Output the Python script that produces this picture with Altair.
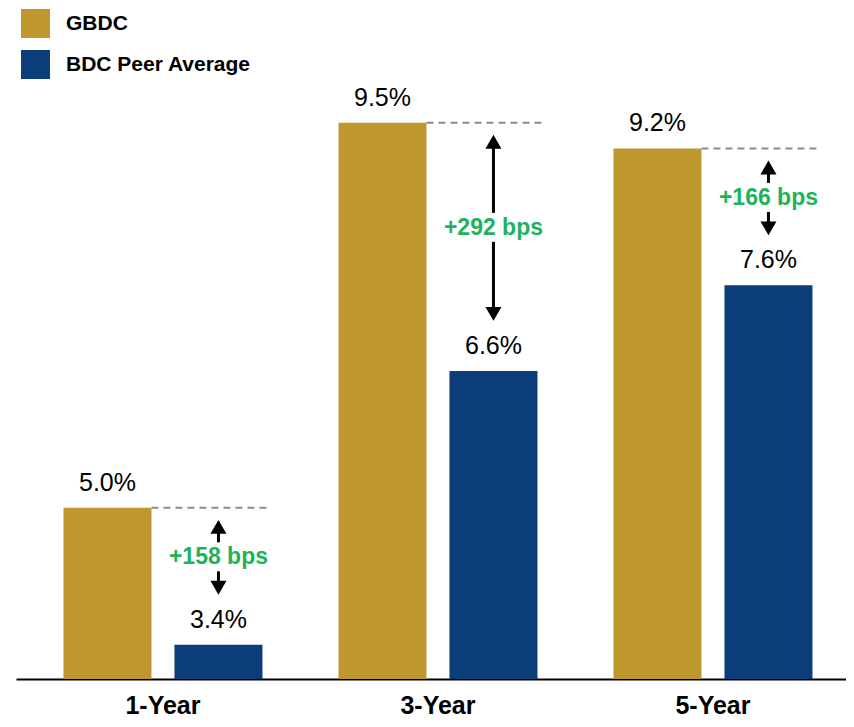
import altair as alt
import pandas as pd

periods = ["1-Year", "3-Year", "5-Year"]
series = ["GBDC", "BDC Peer Average"]
gbdc = [5.0, 9.5, 9.2]
peer = [3.4, 6.6, 7.6]
bps = ["+158 bps", "+292 bps", "+166 bps"]

colors = ["#BE982E", "#0B3D7A"]
green = "#1DB35A"

rows = []
for p, g, q in zip(periods, gbdc, peer):
    rows.append({"period": p, "series": series[0], "value": g, "label": f"{g:.1f}%"})
    rows.append({"period": p, "series": series[1], "value": q, "label": f"{q:.1f}%"})
long_df = pd.DataFrame(rows)

wide_df = pd.DataFrame({
    "period": periods,
    "gbdc": gbdc,
    "peer": peer,
    "bps": bps,
    "series": [series[1]] * len(periods),
})
wide_df["mid"] = (wide_df["gbdc"] + wide_df["peer"]) / 2

FONT = "Liberation Sans"

# plot area 830 wide starting at page x=16; outer padding split so groups sit where the reference has them
x_scale = alt.Scale(domain=periods, paddingInner=0.2764, paddingOuter=0.1473, align=0.586)
xoff_scale = alt.Scale(domain=series, paddingInner=0.207, paddingOuter=0)
y_scale = alt.Scale(domain=[3, 10], zero=False, nice=False)

X = alt.X("period:N", scale=x_scale, sort=periods, title=None,
          axis=alt.Axis(domain=True, domainColor="black", domainWidth=2, ticks=False, tickSize=0,
                        labelFont=FONT, labelFontSize=25, labelFontWeight="bold",
                        labelColor="black", labelPadding=14, labelAngle=0, grid=False))
XO = alt.XOffset("series:N", scale=xoff_scale, sort=series)
Y = alt.Y("value:Q", scale=y_scale, axis=None, title=None)

base_long = alt.Chart(long_df)
base_wide = alt.Chart(wide_df)

bars = base_long.mark_bar().encode(
    x=X, xOffset=XO, y=Y, y2=alt.datum(3),
    color=alt.Color("series:N", scale=alt.Scale(domain=series, range=colors), sort=series,
                    legend=alt.Legend(orient="none", legendX=5, legendY=-71, title=None,
                                      symbolType="square", symbolSize=841, symbolStrokeWidth=0,
                                      symbolOpacity=1,
                                      labelFont=FONT, labelFontSize=21, labelFontWeight="bold",
                                      labelColor="black", labelOffset=16, rowPadding=12,
                                      padding=0, labelLimit=400)),
)

value_text = base_long.mark_text(font=FONT, fontSize=25, color="black", dy=-17,
                                 baseline="alphabetic").encode(
    x=X, xOffset=XO, y=Y, text="label:N")

dash = base_wide.mark_rule(strokeDash=[7, 5], color="#8C8C8C", strokeWidth=2, x2Offset=5).encode(
    x=alt.X("period:N", scale=x_scale, bandPosition=0.4422),
    x2=alt.X2("period:N", bandPosition=1),
    y=alt.Y("gbdc:Q", scale=y_scale),
)

shaft_top = base_wide.mark_rule(color="black", strokeWidth=3, yOffset=20, y2Offset=-34).encode(
    x=alt.X("period:N", scale=x_scale), xOffset=XO,
    y=alt.Y("gbdc:Q", scale=y_scale), y2="mid:Q")

shaft_bot = base_wide.mark_rule(color="black", strokeWidth=3, yOffset=-5, y2Offset=-62).encode(
    x=alt.X("period:N", scale=x_scale), xOffset=XO,
    y=alt.Y("mid:Q", scale=y_scale), y2="peer:Q")

head_top = base_wide.mark_point(shape="triangle-up", filled=True, size=256, color="black",
                                opacity=1, yOffset=19).encode(
    x=alt.X("period:N", scale=x_scale), xOffset=XO, y=alt.Y("gbdc:Q", scale=y_scale))

head_bot = base_wide.mark_point(shape="triangle-down", filled=True, size=256, color="black",
                                opacity=1, yOffset=-57).encode(
    x=alt.X("period:N", scale=x_scale), xOffset=XO, y=alt.Y("peer:Q", scale=y_scale))

bps_text = base_wide.mark_text(font=FONT, fontSize=23, fontWeight="bold", color=green,
                               baseline="middle", dy=-19).encode(
    x=alt.X("period:N", scale=x_scale), xOffset=XO, y=alt.Y("mid:Q", scale=y_scale),
    text="bps:N")

chart = alt.layer(bars, value_text, dash, shaft_top, shaft_bot, head_top, head_bot, bps_text).properties(
    width=830, height=599,
    autosize=alt.AutoSizeParams(type="none"),
    padding={"left": 8, "top": 72, "right": 0, "bottom": 40},
).configure_view(stroke=None)

chart.save("out.html", embed_options={"renderer": "svg", "actions": False})
